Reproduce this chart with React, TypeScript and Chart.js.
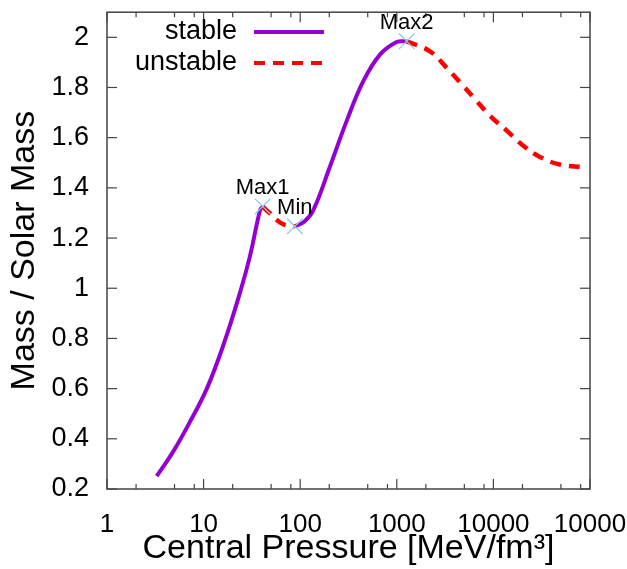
import React, { useEffect, useRef } from "react";
import { Chart, registerables } from "chart.js";

Chart.register(...registerables);

// ---- data ----
const stableP1 = [3.27, 4.86, 7.23, 10.8, 16.0, 23.8, 30.2, 38.4, 40.9];
const stableM1 = [0.251, 0.35, 0.468, 0.6, 0.773, 0.982, 1.128, 1.311, 1.326];
const unstableP1 = [40.9, 48.7, 61.8, 73, 88];
const unstableM1 = [1.326, 1.298, 1.262, 1.25, 1.247];
const stableP2 = [88, 110, 136.7, 203, 303, 450, 670, 998, 1266];
const stableM2 = [1.247, 1.265, 1.311, 1.484, 1.667, 1.825, 1.931, 1.981, 1.984];
const unstableP2 = [1266, 2207, 3287, 4880, 6713, 9226, 13740, 20400, 30350, 48900, 85300];
const unstableM2 = [1.984, 1.944, 1.878, 1.806, 1.746, 1.687, 1.628, 1.568, 1.523, 1.493, 1.483];
const extremaP = [40.9, 88, 1266];
const extremaM = [1.326, 1.247, 1.984];
const extremaLabels = ["Max1", "Min", "Max2"];
const seriesNames = ["stable", "unstable"];

const xTickValues = [1, 10, 100, 1000, 10000, 100000];
const xTickLabels = ["1", "10", "100", "1000", "10000", "10000"];
const xMinorFactors = [2, 5, 8];
const yTickValues = [0.2, 0.4, 0.6, 0.8, 1.0, 1.2, 1.4, 1.6, 1.8, 2.0];
const yTickLabels = ["0.2", "0.4", "0.6", "0.8", "1", "1.2", "1.4", "1.6", "1.8", "2"];

const STABLE_COLOR = "#9400d3";
const UNSTABLE_COLOR = "#ff0000";
const MARK_COLOR = "#8cc8ea";
const FONT = "'Liberation Sans', Arial, Helvetica, sans-serif";

const toXY = (p: number[], m: number[]) => p.map((v, i) => ({ x: v, y: m[i] }));

const framePlugin = {
  id: "frame",
  beforeDatasetsDraw(chart: any) {
    const { ctx, chartArea, scales } = chart;
    const { left, right, top, bottom } = chartArea;
    const x = scales.x;
    const y = scales.y;
    ctx.save();
    ctx.strokeStyle = "#444";
    ctx.lineWidth = 1.2;
    const line = (x1: number, y1: number, x2: number, y2: number) => {
      ctx.beginPath();
      ctx.moveTo(x1, y1);
      ctx.lineTo(x2, y2);
      ctx.stroke();
    };
    xTickValues.forEach((v, i) => {
      const px = x.getPixelForValue(v);
      line(px, bottom, px, bottom - 10);
      line(px, top, px, top + 10);
      if (i < xTickValues.length - 1) {
        xMinorFactors.forEach((f) => {
          const mx = x.getPixelForValue(v * f);
          line(mx, bottom, mx, bottom - 5);
          line(mx, top, mx, top + 5);
        });
      }
    });
    yTickValues.forEach((v) => {
      const py = y.getPixelForValue(v);
      line(left, py, left + 10, py);
      line(right, py, right - 10, py);
    });
    ctx.lineWidth = 1.5;
    ctx.strokeRect(left, top, right - left, bottom - top);
    ctx.restore();
  },
  afterDraw(chart: any) {
    const { ctx } = chart;
    ctx.save();
    const meta = chart.getDatasetMeta(0);
    ctx.font = `22px ${FONT}`;
    ctx.fillStyle = "#000";
    ctx.textAlign = "center";
    ctx.textBaseline = "middle";
    meta.data.forEach((el: any, i: number) => {
      ctx.fillText(extremaLabels[i], el.x, el.y - 18);
    });
    ctx.font = `27px ${FONT}`;
    ctx.textAlign = "right";
    const rows = [
      { name: seriesNames[0], color: STABLE_COLOR, dash: [] as number[], y: 32 },
      { name: seriesNames[1], color: UNSTABLE_COLOR, dash: [11, 8], y: 63 },
    ];
    rows.forEach((r) => {
      ctx.fillStyle = "#000";
      ctx.fillText(r.name, 237, r.y);
      ctx.strokeStyle = r.color;
      ctx.lineWidth = 4;
      ctx.setLineDash(r.dash);
      ctx.beginPath();
      ctx.moveTo(254, r.y);
      ctx.lineTo(324, r.y);
      ctx.stroke();
    });
    ctx.restore();
  },
};

export default function App() {
  const ref = useRef<HTMLCanvasElement | null>(null);
  useEffect(() => {
    document.body.style.margin = "0";
    if (!ref.current) return;
    const lineBase = {
      type: "line" as const,
      pointRadius: 0,
      fill: false,
      tension: 0.4,
      borderCapStyle: "butt" as const,
    };
    const chart = new Chart(ref.current, {
      type: "line",
      data: {
        datasets: [
          {
            type: "scatter",
            label: "extrema",
            data: toXY(extremaP, extremaM),
            pointStyle: "crossRot",
            pointRadius: 11,
            pointBorderWidth: 1.2,
            pointBorderColor: MARK_COLOR,
            pointBackgroundColor: MARK_COLOR,
            showLine: false,
            order: 0,
          } as any,
          { ...lineBase, label: "s1", data: toXY(stableP1, stableM1), borderColor: STABLE_COLOR, borderWidth: 4, order: 2 },
          { ...lineBase, label: "s2", data: toXY(stableP2, stableM2), borderColor: STABLE_COLOR, borderWidth: 4, order: 2 },
          { ...lineBase, label: "u1", data: toXY(unstableP1, unstableM1), borderColor: UNSTABLE_COLOR, borderWidth: 4.5, borderDash: [11, 8], order: 1 },
          { ...lineBase, label: "u2", data: toXY(unstableP2, unstableM2), borderColor: UNSTABLE_COLOR, borderWidth: 4.5, borderDash: [11, 8], order: 1 },
        ],
      },
      options: {
        responsive: false,
        animation: false,
        layout: { padding: { top: 7, right: 37, left: 0, bottom: 0 } },
        plugins: { legend: { display: false }, tooltip: { enabled: false } },
        scales: {
          x: {
            type: "logarithmic",
            min: 1,
            max: 100000,
            grid: { display: false },
            border: { display: false },
            afterBuildTicks: (s: any) => {
              s.ticks = xTickValues.map((v) => ({ value: v }));
            },
            afterFit: (s: any) => {
              s.height = 80;
              s.paddingLeft = 0;
              s.paddingRight = 0;
            },
            ticks: {
              autoSkip: false,
              maxRotation: 0,
              padding: 12,
              color: "#000",
              font: { family: FONT, size: 26 },
              callback: (_v: any, i: number) => xTickLabels[i],
            },
            title: {
              display: true,
              text: "Central Pressure [MeV/fm³]",
              color: "#000",
              font: { family: FONT, size: 34 },
              padding: { top: 0, bottom: 0 },
            },
          },
          y: {
            type: "linear",
            min: 0.2,
            max: 2.1,
            grid: { display: false },
            border: { display: false },
            afterBuildTicks: (s: any) => {
              s.ticks = yTickValues.map((v) => ({ value: v }));
            },
            afterFit: (s: any) => {
              s.width = 107;
              s.paddingTop = 0;
              s.paddingBottom = 0;
            },
            ticks: {
              padding: 10,
              color: "#000",
              font: { family: FONT, size: 27 },
              callback: (_v: any, i: number) => yTickLabels[i],
            },
            title: {
              display: true,
              text: "Mass / Solar Mass",
              color: "#000",
              font: { family: FONT, size: 34 },
              padding: { top: 4, bottom: 0 },
            },
          },
        },
      },
      plugins: [framePlugin],
    });
    return () => chart.destroy();
  }, []);
  return <canvas ref={ref} width={627} height={569} />;
}
